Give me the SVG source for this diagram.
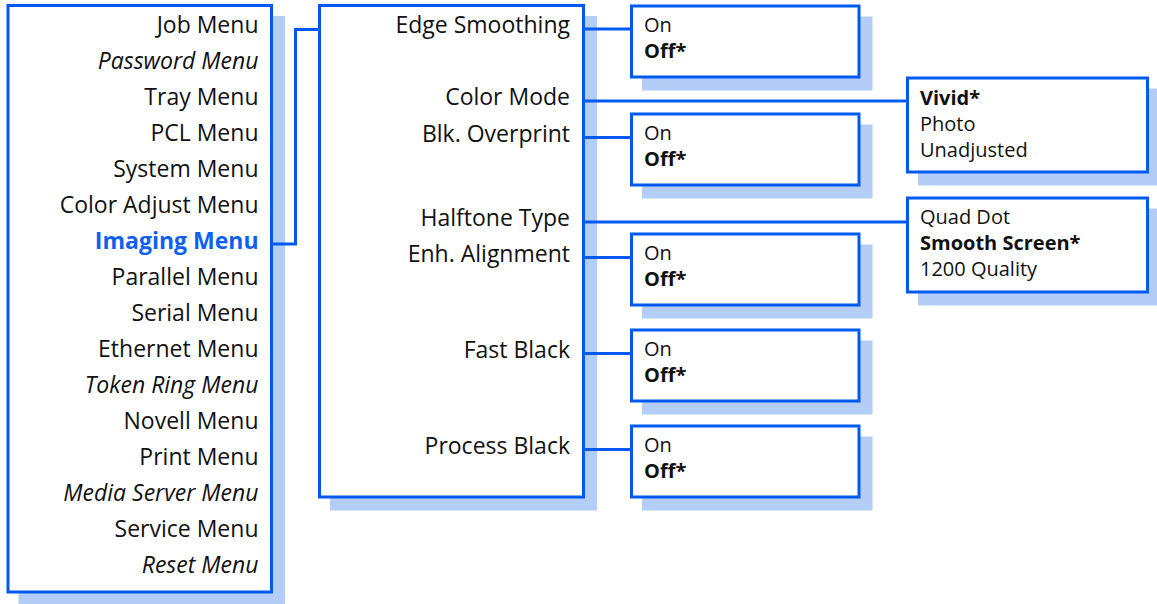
<svg xmlns="http://www.w3.org/2000/svg" width="1157" height="604" viewBox="0 0 1157 604">
<style>
.sh{fill:#b3cdf7;stroke:none}
.bx{fill:#fff;stroke:#005af0;stroke-width:3}
.cn{fill:none;stroke:#005af0;stroke-width:3}
text{font-family:"Open Sans","Noto Sans","Liberation Sans",sans-serif;fill:#111}
.m{font-size:23px;text-anchor:end}
.i{font-style:italic}
.hl{font-weight:bold;fill:#1060f0}
.o{font-size:20px}
.b{font-weight:bold}
</style>
<rect width="1157" height="604" fill="#fff"/>
<g id="main-menu">
<rect class="sh" x="18.5" y="16" width="266.5" height="589.5"/>
<rect class="bx" x="8" y="5.5" width="263.5" height="586.5"/>
<text class="m" x="258.5" y="33.3">Job Menu</text>
<text class="m i" x="258.5" y="69.3">Password Menu</text>
<text class="m" x="258.5" y="105.3">Tray Menu</text>
<text class="m" x="258.5" y="141.3">PCL Menu</text>
<text class="m" x="258.5" y="177.3">System Menu</text>
<text class="m" x="258.5" y="213.3">Color Adjust Menu</text>
<text class="m hl" x="258.5" y="249.3">Imaging Menu</text>
<text class="m" x="258.5" y="285.3">Parallel Menu</text>
<text class="m" x="258.5" y="321.3">Serial Menu</text>
<text class="m" x="258.5" y="357.3">Ethernet Menu</text>
<text class="m i" x="258.5" y="393.3">Token Ring Menu</text>
<text class="m" x="258.5" y="429.3">Novell Menu</text>
<text class="m" x="258.5" y="465.3">Print Menu</text>
<text class="m i" x="258.5" y="501.3">Media Server Menu</text>
<text class="m" x="258.5" y="537.3">Service Menu</text>
<text class="m i" x="258.5" y="573.3">Reset Menu</text>
</g>
<g id="imaging-menu">
<rect class="sh" x="330" y="16" width="267" height="494.5"/>
<rect class="bx" x="319.5" y="5.5" width="264" height="491.5"/>
<text class="m" x="570" y="33">Edge Smoothing</text>
<text class="m" x="570" y="105">Color Mode</text>
<text class="m" x="570" y="141.5">Blk. Overprint</text>
<text class="m" x="570" y="226">Halftone Type</text>
<text class="m" x="570" y="261.5">Enh. Alignment</text>
<text class="m" x="570" y="357.5">Fast Black</text>
<text class="m" x="570" y="453.5">Process Black</text>
</g>
<g id="connectors">
<path class="cn" d="M271.5,244 H295.5 V29.5 H319.5"/>
<path class="cn" d="M583.5,29 H631.5"/>
<path class="cn" d="M583.5,101 H907.5"/>
<path class="cn" d="M583.5,137.5 H631.5"/>
<path class="cn" d="M583.5,222 H907.5"/>
<path class="cn" d="M583.5,257.5 H631.5"/>
<path class="cn" d="M583.5,353.5 H631.5"/>
<path class="cn" d="M583.5,449.5 H631.5"/>
</g>
<g id="opt-edge-smoothing">
<rect class="sh" x="642" y="16.5" width="230.5" height="74"/>
<rect class="bx" x="631.5" y="6" width="227.5" height="71"/>
<text class="o" x="644" y="32">On</text>
<text class="o b" x="644" y="58">Off*</text>
</g>
<g id="opt-color-mode">
<rect class="sh" x="918" y="88.5" width="243" height="97"/>
<rect class="bx" x="907.5" y="78" width="240" height="94"/>
<text class="o b" x="920" y="104.5">Vivid*</text>
<text class="o" x="920" y="130.7">Photo</text>
<text class="o" x="920" y="157">Unadjusted</text>
</g>
<g id="opt-blk-overprint">
<rect class="sh" x="642" y="124.5" width="230.5" height="74"/>
<rect class="bx" x="631.5" y="114" width="227.5" height="71"/>
<text class="o" x="644" y="140">On</text>
<text class="o b" x="644" y="166">Off*</text>
</g>
<g id="opt-halftone-type">
<rect class="sh" x="918" y="208.5" width="243" height="97"/>
<rect class="bx" x="907.5" y="198" width="240" height="94"/>
<text class="o" x="920" y="224">Quad Dot</text>
<text class="o b" x="920" y="250">Smooth Screen*</text>
<text class="o" x="920" y="276">1200 Quality</text>
</g>
<g id="opt-enh-alignment">
<rect class="sh" x="642" y="244.5" width="230.5" height="74"/>
<rect class="bx" x="631.5" y="234" width="227.5" height="71"/>
<text class="o" x="644" y="259.5">On</text>
<text class="o b" x="644" y="285.5">Off*</text>
</g>
<g id="opt-fast-black">
<rect class="sh" x="642" y="340.5" width="230.5" height="74"/>
<rect class="bx" x="631.5" y="330" width="227.5" height="71"/>
<text class="o" x="644" y="355.5">On</text>
<text class="o b" x="644" y="381.5">Off*</text>
</g>
<g id="opt-process-black">
<rect class="sh" x="642" y="436.5" width="230.5" height="74"/>
<rect class="bx" x="631.5" y="426" width="227.5" height="71"/>
<text class="o" x="644" y="451.5">On</text>
<text class="o b" x="644" y="477.5">Off*</text>
</g>
</svg>
